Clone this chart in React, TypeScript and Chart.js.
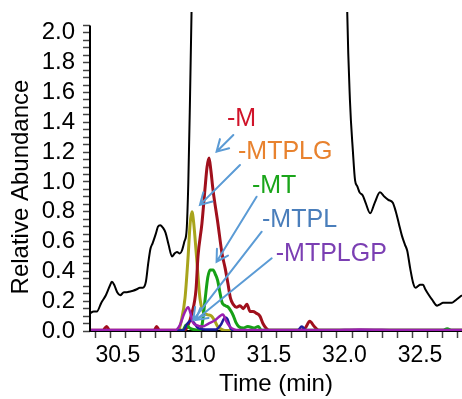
import React, { useEffect, useRef } from "react";
import { Chart, registerables } from "chart.js";

Chart.register(...registerables);

const FONT = '"Liberation Sans", Arial, Helvetica, sans-serif';

// ---------- data ----------
const ticTimes = [30.315, 30.34, 30.36, 30.39, 30.42, 30.445, 30.46, 30.475, 30.495, 30.515, 30.54, 30.56, 30.58, 30.6, 30.625, 30.645, 30.665, 30.685, 30.7, 30.715, 30.73, 30.75, 30.765, 30.78, 30.8, 30.815, 30.835, 30.858, 30.875, 30.891, 30.91, 30.924, 30.94, 30.955, 30.966, 30.977, 30.99, 31.01, 31.1, 31.5, 31.95, 32.0, 32.017, 32.036, 32.056, 32.07, 32.085, 32.1, 32.12, 32.14, 32.17, 32.2, 32.235, 32.265, 32.29, 32.32, 32.34, 32.36, 32.38, 32.4, 32.415, 32.435, 32.455, 32.47, 32.485, 32.5, 32.52, 32.535, 32.553, 32.58, 32.613, 32.635, 32.652, 32.68, 32.712, 32.74, 32.765, 32.778];
const ticValues = [0.12, 0.13, 0.13, 0.19, 0.24, 0.3, 0.33, 0.31, 0.26, 0.24, 0.26, 0.26, 0.265, 0.27, 0.28, 0.29, 0.29, 0.33, 0.45, 0.55, 0.59, 0.65, 0.7, 0.71, 0.69, 0.66, 0.58, 0.5, 0.52, 0.53, 0.52, 0.54, 0.6, 0.68, 1.0, 1.55, 2.3, 3.5, 6, 8, 6, 3.5, 2.2, 1.55, 1.2, 1.01, 0.97, 0.93, 0.91, 0.86, 0.79, 0.86, 0.93, 0.9, 0.88, 0.86, 0.8, 0.72, 0.64, 0.58, 0.54, 0.42, 0.32, 0.29, 0.3, 0.31, 0.31, 0.28, 0.25, 0.21, 0.17, 0.18, 0.19, 0.19, 0.19, 0.21, 0.23, 0.24];

const mTimes = [30.315, 30.4, 30.425, 30.445, 30.6, 30.74, 30.756, 30.775, 30.94, 30.96, 30.99, 31.017, 31.03, 31.056, 31.076, 31.09, 31.103, 31.115, 31.129, 31.162, 31.189, 31.21, 31.228, 31.245, 31.262, 31.285, 31.308, 31.33, 31.354, 31.375, 31.394, 31.415, 31.44, 31.46, 31.48, 31.5, 31.7, 31.74, 31.77, 31.8, 31.83, 32.2, 32.5, 32.778];
const mValues = [0.005, 0.005, 0.03, 0.005, 0.005, 0.005, 0.03, 0.005, 0.005, 0.03, 0.12, 0.28, 0.5, 0.72, 0.95, 1.1, 1.16, 1.08, 0.95, 0.72, 0.52, 0.42, 0.32, 0.22, 0.18, 0.16, 0.17, 0.15, 0.18, 0.13, 0.13, 0.12, 0.1, 0.05, 0.02, 0.005, 0.005, 0.02, 0.065, 0.03, 0.005, 0.005, 0.005, 0.005];

const mtplgTimes = [30.315, 30.6, 30.9, 30.92, 30.944, 30.964, 30.978, 30.99, 31.0, 31.021, 31.043, 31.065, 31.09, 31.12, 31.14, 31.16, 31.19, 31.22, 31.6, 32.0, 32.778];
const mtplgValues = [0.003, 0.003, 0.003, 0.07, 0.22, 0.49, 0.72, 0.8, 0.74, 0.49, 0.22, 0.13, 0.11, 0.1, 0.07, 0.03, 0.01, 0.003, 0.003, 0.003, 0.003];

const mtTimes = [30.315, 30.7, 30.93, 30.95, 30.975, 31.0, 31.04, 31.055, 31.065, 31.078, 31.095, 31.11, 31.13, 31.145, 31.16, 31.175, 31.19, 31.21, 31.23, 31.25, 31.265, 31.28, 31.3, 31.33, 31.36, 31.4, 31.43, 31.45, 32.0, 32.65, 32.68, 32.71, 32.778];
const mtValues = [0.004, 0.004, 0.004, 0.04, 0.02, 0.01, 0.005, 0.03, 0.1, 0.22, 0.36, 0.41, 0.41, 0.38, 0.34, 0.26, 0.19, 0.17, 0.16, 0.13, 0.1, 0.06, 0.03, 0.02, 0.03, 0.02, 0.03, 0.005, 0.005, 0.005, 0.015, 0.005, 0.005];

const mtplTimes = [30.315, 30.7, 30.93, 30.96, 30.985, 31.0, 31.03, 31.08, 31.15, 31.18, 31.21, 31.225, 31.245, 31.27, 31.69, 31.717, 31.745, 32.778];
const mtplValues = [0.004, 0.004, 0.004, 0.05, 0.07, 0.06, 0.02, 0.01, 0.01, 0.04, 0.09, 0.08, 0.02, 0.004, 0.004, 0.03, 0.004, 0.004];

const mtplgpTimes = [30.315, 30.5, 30.88, 30.91, 30.94, 30.965, 30.98, 30.995, 31.02, 31.06, 31.1, 31.14, 31.175, 31.195, 31.215, 31.24, 31.27, 31.3, 31.9, 32.1, 32.4, 32.778];
const mtplgpValues = [0.006, 0.006, 0.006, 0.04, 0.12, 0.16, 0.12, 0.06, 0.04, 0.03, 0.05, 0.07, 0.1, 0.11, 0.07, 0.03, 0.01, 0.006, 0.006, 0.01, 0.006, 0.006];

// tick labels
const xLabelValues = [30.5, 31.0, 31.5, 32.0, 32.5];
const xLabelTexts = ["30.5", "31.0", "31.5", "32.0", "32.5"];
const yLabelValues = [0, 0.2, 0.4, 0.6, 0.8, 1.0, 1.2, 1.4, 1.6, 1.8, 2.0];
const yLabelTexts = ["0.0", "0.2", "0.4", "0.6", "0.8", "1.0", "1.2", "1.4", "1.6", "1.8", "2.0"];

// annotations (data coordinates)
const noteTexts = ["-M", "-MTPLG", "-MT", "-MTPL", "-MTPLGP"];
const noteColors = ["#d0142a", "#e8822e", "#1aa51a", "#4a7ebb", "#7b3fb3"];
const noteX = [31.222, 31.295, 31.387, 31.454, 31.545];
const noteY = [1.423, 1.201, 0.973, 0.745, 0.517];
const arrowFromX = [31.264, 31.308, 31.418, 31.452, 31.518];
const arrowFromY = [1.315, 1.114, 0.901, 0.666, 0.488];
const arrowToX = [31.153, 31.043, 31.153, 30.999, 31.015];
const arrowToY = [1.203, 0.846, 0.465, 0.074, 0.074];

const toXY = (ts: number[], vs: number[]) => ts.map((t, i) => ({ x: t, y: vs[i] }));

const near = (a: number, b: number) => Math.abs(a - b) < 1e-6;

const xMinorTicks: number[] = [];
for (let k = 0; k < 25; k++) xMinorTicks.push(30.35 + k * 0.1);
const xAllTicks = [...xMinorTicks, ...xLabelValues].sort((a, b) => a - b);
const yAllTicks: number[] = [];
for (let k = 0; k <= 41; k++) yAllTicks.push(k * 0.05);

const annotationPlugin = {
  id: "annot",
  afterDatasetsDraw(chart: any) {
    const { ctx, scales } = chart;
    const xs = scales.x, ys = scales.y;
    ctx.save();
    // y axis line
    ctx.strokeStyle = "#000";
    ctx.lineWidth = 2;
    ctx.beginPath();
    ctx.moveTo(chart.chartArea.left, ys.getPixelForValue(0) + 1);
    ctx.lineTo(chart.chartArea.left, ys.getPixelForValue(2.05));
    ctx.stroke();
    // arrows
    ctx.strokeStyle = "#5b9bd5";
    ctx.lineWidth = 2;
    ctx.lineCap = "round";
    for (let i = 0; i < noteTexts.length; i++) {
      const x1 = xs.getPixelForValue(arrowFromX[i]);
      const y1 = ys.getPixelForValue(arrowFromY[i]);
      const x2 = xs.getPixelForValue(arrowToX[i]);
      const y2 = ys.getPixelForValue(arrowToY[i]);
      const ang = Math.atan2(y2 - y1, x2 - x1);
      const L = 13, A = Math.PI / 6;
      ctx.beginPath();
      ctx.moveTo(x1, y1);
      ctx.lineTo(x2, y2);
      ctx.moveTo(x2 - L * Math.cos(ang - A), y2 - L * Math.sin(ang - A));
      ctx.lineTo(x2, y2);
      ctx.lineTo(x2 - L * Math.cos(ang + A), y2 - L * Math.sin(ang + A));
      ctx.stroke();
    }
    // labels
    ctx.font = `25px ${FONT}`;
    ctx.textAlign = "left";
    ctx.textBaseline = "middle";
    for (let i = 0; i < noteTexts.length; i++) {
      ctx.fillStyle = noteColors[i];
      ctx.fillText(noteTexts[i], xs.getPixelForValue(noteX[i]), ys.getPixelForValue(noteY[i]));
    }
    // y title
    ctx.fillStyle = "#000";
    ctx.font = `24px ${FONT}`;
    ctx.textAlign = "center";
    ctx.translate(21.5, 187);
    ctx.rotate(-Math.PI / 2);
    ctx.fillText("Relative Abundance", 0, 0);
    ctx.restore();
  },
};

export default function App() {
  const ref = useRef<HTMLCanvasElement>(null);
  useEffect(() => {
    document.body.style.margin = "0";
    const line = (data: any, color: string, width: number, order: number) => ({
      data,
      borderColor: color,
      backgroundColor: color,
      borderWidth: width,
      pointRadius: 0,
      fill: false,
      cubicInterpolationMode: "monotone" as const,
      borderJoinStyle: "round" as const,
      order,
    });
    const chart = new Chart(ref.current!, {
      type: "line",
      data: {
        datasets: [
          line(toXY(ticTimes, ticValues), "#000000", 2, 6),
          line(toXY(mtplgTimes, mtplgValues), "#a8a41c", 3, 5),
          line(toXY(mTimes, mValues), "#a0101c", 3, 4),
          line(toXY(mtTimes, mtValues), "#16a016", 3, 3),
          line(toXY(mtplTimes, mtplValues), "#1c1c9c", 2.5, 2),
          line(toXY(mtplgpTimes, mtplgpValues), "#9a1fb0", 2.5, 1),
        ],
      },
      options: {
        responsive: false,
        animation: false,
        events: [],
        layout: { padding: { top: 12, left: 0, right: 0, bottom: 0 } },
        plugins: { legend: { display: false }, tooltip: { enabled: false } },
        scales: {
          x: {
            type: "linear",
            min: 30.315,
            max: 32.778,
            afterBuildTicks: (axis: any) => {
              axis.ticks = xAllTicks.map((v) => ({ value: v }));
            },
            afterFit: (axis: any) => {
              axis.height = 68;
              axis.paddingLeft = 0;
              axis.paddingRight = 0;
            },
            border: { display: true, color: "#000", width: 2 },
            grid: {
              drawOnChartArea: false,
              drawTicks: true,
              tickLength: 7,
              tickWidth: 1.5,
              tickColor: (ctx: any) =>
                xMinorTicks.some((m) => near(m, ctx.tick?.value)) ? "#444" : "rgba(0,0,0,0)",
            },
            ticks: {
              autoSkip: false,
              maxRotation: 0,
              minRotation: 0,
              padding: 4,
              color: "#000",
              font: { family: FONT, size: 23 },
              callback: (value: any) => {
                const i = xLabelValues.findIndex((v) => near(v, Number(value)));
                return i >= 0 ? xLabelTexts[i] : "";
              },
            },
            title: {
              display: true,
              text: "Time (min)",
              color: "#000",
              font: { family: FONT, size: 24 },
              padding: { top: 0, bottom: 0 },
            },
          },
          y: {
            type: "linear",
            min: 0,
            max: 2.14,
            afterBuildTicks: (axis: any) => {
              axis.ticks = yAllTicks.map((v) => ({ value: v }));
            },
            afterFit: (axis: any) => {
              axis.width = 90;
              axis.paddingTop = 0;
              axis.paddingBottom = 0;
            },
            border: { display: false },
            grid: {
              drawOnChartArea: false,
              drawTicks: true,
              tickLength: 7,
              tickWidth: 1.5,
              tickColor: "#444",
            },
            ticks: {
              autoSkip: false,
              padding: 8,
              color: "#000",
              font: { family: FONT, size: 24 },
              callback: (value: any) => {
                const i = yLabelValues.findIndex((v) => near(v, Number(value)));
                return i >= 0 ? yLabelTexts[i] : "";
              },
            },
            title: { display: false },
          },
        },
      },
      plugins: [annotationPlugin],
    });
    return () => chart.destroy();
  }, []);
  return (
    <div style={{ width: 462, height: 399 }}>
      <canvas ref={ref} width={462} height={399} style={{ display: "block", width: 462, height: 399 }} />
    </div>
  );
}
